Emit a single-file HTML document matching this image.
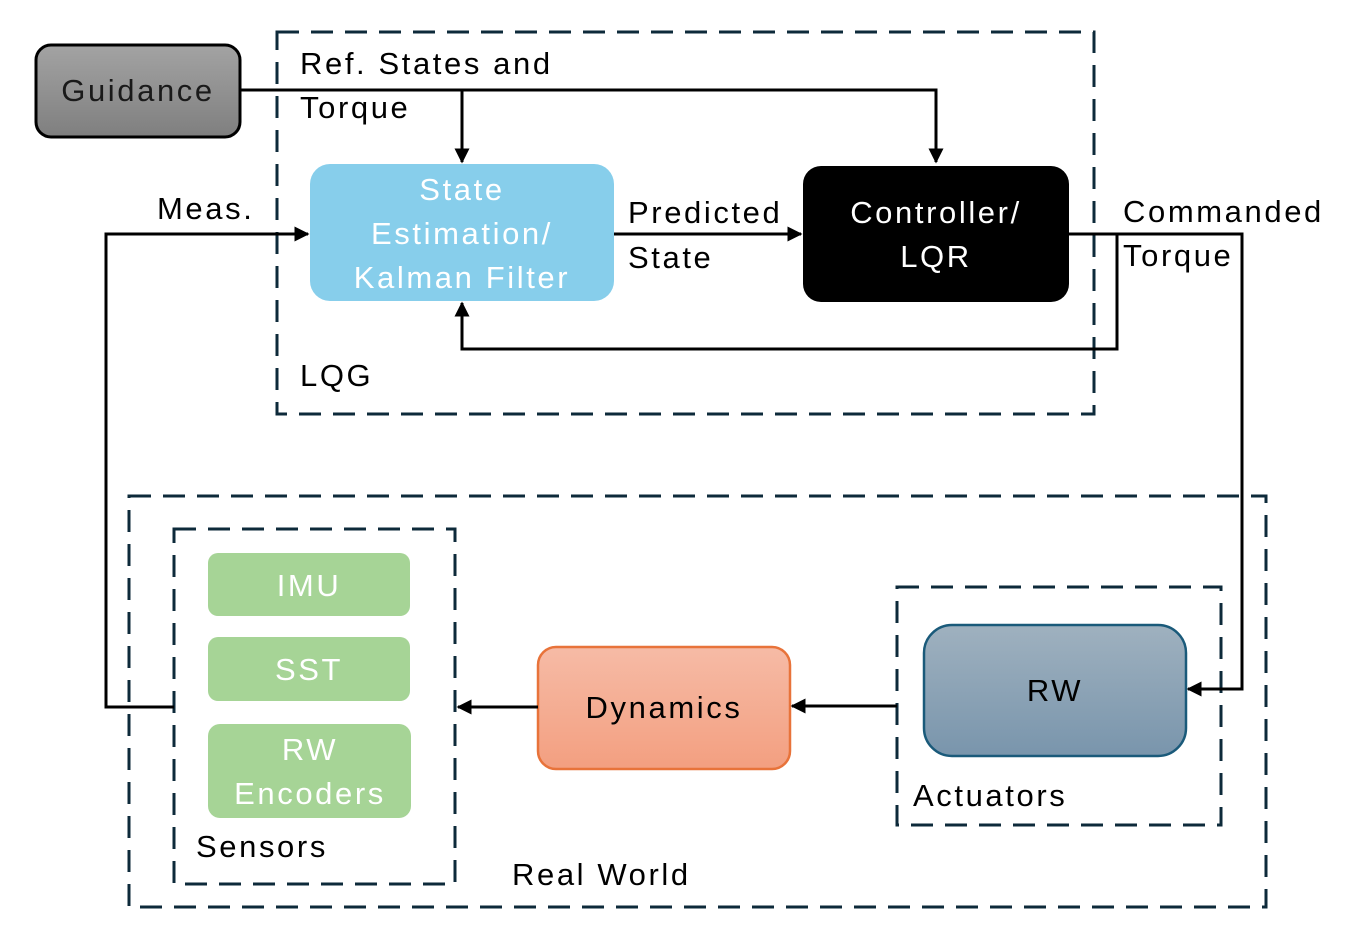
<!DOCTYPE html>
<html><head><style>html,body{margin:0;padding:0;background:#fff}</style></head>
<body>
<svg width="1345" height="925" xmlns="http://www.w3.org/2000/svg" font-family="Liberation Sans, sans-serif" font-size="31" letter-spacing="2.6">
<defs>
<linearGradient id="g1" x1="0" y1="0" x2="0" y2="1"><stop offset="0" stop-color="#a3a3a3"/><stop offset="1" stop-color="#7f7f7f"/></linearGradient>
<linearGradient id="g2" x1="0" y1="0" x2="0" y2="1"><stop offset="0" stop-color="#f6bba6"/><stop offset="1" stop-color="#f39f80"/></linearGradient>
<linearGradient id="g3" x1="0" y1="0" x2="0" y2="1"><stop offset="0" stop-color="#9fb1bf"/><stop offset="1" stop-color="#7995ac"/></linearGradient>
<marker id="a" viewBox="0 0 10 10" refX="9" refY="5" markerWidth="5" markerHeight="5" orient="auto-start-reverse"><path d="M0,0L10,5L0,10z" fill="#000"/></marker>
</defs>
<g fill="none" stroke="#0d2a3a" stroke-width="3" stroke-dasharray="22,12">
<rect x="277" y="32" width="817" height="382"/>
<rect x="129" y="496" width="1137" height="411"/>
<rect x="174" y="529" width="281" height="355"/>
<rect x="897" y="587" width="324" height="238"/>
</g>
<rect x="36" y="45" width="204" height="92" rx="15" fill="url(#g1)" stroke="#000" stroke-width="3"/>
<text x="138" y="101" text-anchor="middle" fill="#1a1a1a">Guidance</text>
<rect x="310" y="164" width="304" height="137" rx="20" fill="#87ceeb"/>
<g fill="#fff" text-anchor="middle"><text x="462" y="200">State</text><text x="462" y="244">Estimation/</text><text x="462" y="288">Kalman Filter</text></g>
<rect x="803" y="166" width="266" height="136" rx="18" fill="#000"/>
<g fill="#fff" text-anchor="middle"><text x="936" y="223">Controller/</text><text x="936" y="267">LQR</text></g>
<g fill="#a6d496"><rect x="208" y="553" width="202" height="63" rx="10"/><rect x="208" y="637" width="202" height="64" rx="10"/><rect x="208" y="724" width="203" height="94" rx="12"/></g>
<g fill="#fff" text-anchor="middle"><text x="309" y="596">IMU</text><text x="309" y="680">SST</text><text x="310" y="760">RW</text><text x="310" y="804">Encoders</text></g>
<rect x="538" y="647" width="252" height="122" rx="18" fill="url(#g2)" stroke="#e8733a" stroke-width="2.5"/>
<text x="664" y="718" text-anchor="middle">Dynamics</text>
<rect x="924" y="625" width="262" height="131" rx="28" fill="url(#g3)" stroke="#1a5a7a" stroke-width="2.5"/>
<text x="1055" y="701" text-anchor="middle">RW</text>
<g fill="none" stroke="#000" stroke-width="3">
<path d="M240,90H936V162" marker-end="url(#a)"/>
<path d="M462,90V162" marker-end="url(#a)"/>
<path d="M614,234H801" marker-end="url(#a)"/>
<path d="M1069,234H1242V689H1188" marker-end="url(#a)"/>
<path d="M1117,234V349H462V303" marker-end="url(#a)"/>
<path d="M174,707H106V234H308" marker-end="url(#a)"/>
<path d="M897,706H792" marker-end="url(#a)"/>
<path d="M538,707H458" marker-end="url(#a)"/>
</g>
<g fill="#000">
<text x="300" y="74">Ref. States and</text><text x="300" y="118">Torque</text>
<text x="157" y="219">Meas.</text>
<text x="628" y="223">Predicted</text><text x="628" y="268">State</text>
<text x="1123" y="222">Commanded</text><text x="1123" y="266">Torque</text>
<text x="300" y="386">LQG</text>
<text x="196" y="857">Sensors</text>
<text x="913" y="806">Actuators</text>
<text x="512" y="885">Real World</text>
</g>
</svg>
</body></html>
